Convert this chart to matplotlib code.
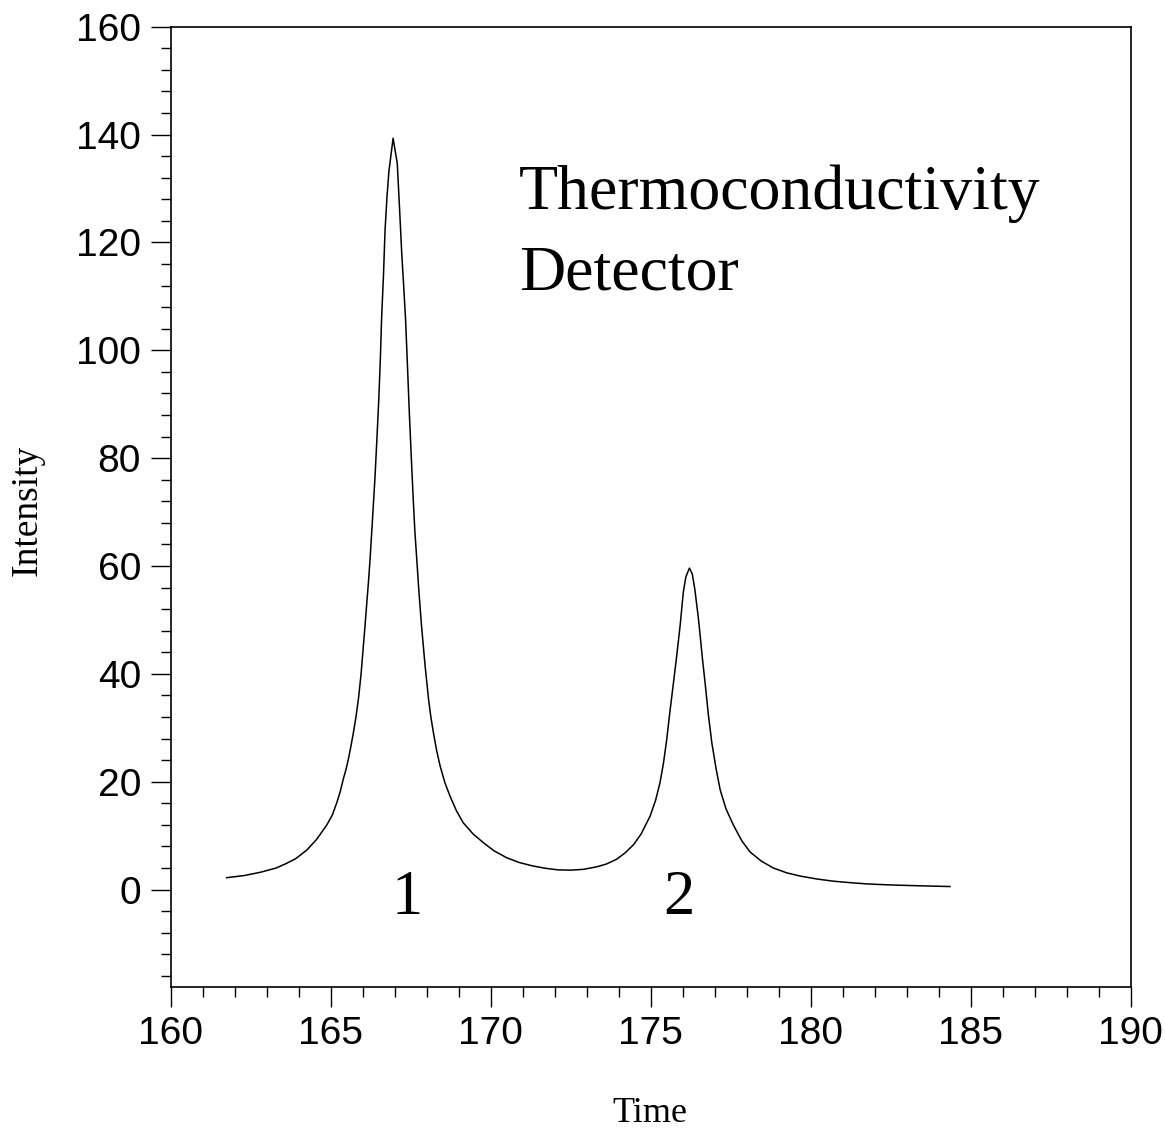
import matplotlib
matplotlib.use("Agg")
import matplotlib.pyplot as plt
from matplotlib.ticker import MultipleLocator

# chromatogram
time = [161.75, 162.3, 162.8, 163.3, 163.6, 163.9, 164.25, 164.56, 164.87, 165.05,
        165.19, 165.3, 165.39, 165.48, 165.55, 165.63, 165.71, 165.79, 165.87, 165.95,
        166.02, 166.07, 166.12, 166.18, 166.23, 166.3, 166.38, 166.44, 166.5, 166.55,
        166.59, 166.65, 166.70, 166.76, 166.82, 166.95, 167.08, 167.15, 167.22, 167.28,
        167.34, 167.40, 167.46, 167.52, 167.58, 167.63, 167.69, 167.76, 167.84, 167.95,
        168.06, 168.13, 168.21, 168.31, 168.42, 168.57, 168.73, 168.93, 169.14, 169.45,
        169.77, 170.1, 170.5, 170.9, 171.3, 171.7, 172.1, 172.5, 172.9, 173.3,
        173.6, 173.93, 174.2, 174.46, 174.7, 174.98, 175.15, 175.29, 175.4, 175.5,
        175.6, 175.71, 175.81, 175.92, 176.02, 176.1, 176.21, 176.3, 176.38, 176.49,
        176.55, 176.62, 176.70, 176.8, 176.91, 177.04, 177.17, 177.35, 177.58, 177.85,
        178.1, 178.45, 178.83, 179.25, 179.67, 180.2, 180.71, 181.25, 181.75, 182.3,
        182.79, 183.6, 184.35]
intensity = [2.2, 2.6, 3.2, 4.0, 4.8, 5.7, 7.3, 9.3, 11.9, 13.8,
             16.1, 18.2, 20.4, 22.3, 24.1, 26.5, 29.1, 32.0, 35.5, 40.0,
             45.1, 48.7, 52.5, 57.0, 61.2, 68.0, 76.0, 83.0, 90.5, 98.0,
             105.7, 114.0, 122.4, 128.5, 133.2, 139.3, 134.7, 126.5, 118.0, 112.0,
             105.7, 97.0, 88.0, 80.0, 72.3, 66.5, 61.2, 55.0, 48.8, 41.5,
             35.2, 32.0, 29.1, 25.8, 22.9, 19.8, 17.3, 14.6, 12.4, 10.3,
             8.7, 7.2, 5.9, 5.0, 4.4, 3.95, 3.65, 3.6, 3.75, 4.2,
             4.7, 5.6, 6.8, 8.3, 10.3, 13.6, 16.5, 19.8, 23.5, 27.8,
             33.0, 38.3, 43.2, 49.0, 55.2, 58.0, 59.6, 58.5, 55.6, 50.3,
             46.8, 42.6, 38.3, 32.5, 27.2, 22.5, 18.5, 15.0, 12.0, 9.0,
             7.0, 5.3, 4.0, 3.1, 2.5, 1.95, 1.55, 1.27, 1.05, 0.9,
             0.8, 0.67, 0.56]

peak_labels = ["1", "2"]
peak_pos = [167.4, 175.88]

fig = plt.figure(figsize=(11.65, 11.29), dpi=100)
ax = fig.add_axes([0.1465, 0.1261, 0.8241, 0.8503])

ax.plot(time, intensity, color="black", lw=1.1)

ax.set_xlim(160, 190)
ax.set_ylim(-18, 160)
ax.xaxis.set_major_locator(MultipleLocator(5))
ax.xaxis.set_minor_locator(MultipleLocator(1))
ax.yaxis.set_major_locator(MultipleLocator(20))
ax.yaxis.set_minor_locator(MultipleLocator(4))
ax.tick_params(which="both", direction="out", width=1.0, top=False, right=False)
ax.tick_params(which="major", length=14.4, pad=7, labelsize=28)
ax.tick_params(which="minor", length=7.2)
for lab in ax.get_xticklabels() + ax.get_yticklabels():
    lab.set_fontfamily("Liberation Sans")
for sp in ax.spines.values():
    sp.set_linewidth(1.2)

serif = "Liberation Serif"
fig.text(650 / 1165, 1 - 1122 / 1129, "Time", family=serif, fontsize=26,
         ha="center", va="baseline")
fig.text(27 / 1165, 1 - 510 / 1129, "Intensity", family=serif, fontsize=27,
         rotation=90, ha="center", va="center")

ax.text(170.88, 126.1, "Thermoconductivity", family=serif, fontsize=46, va="baseline")
ax.text(170.88, 111.3, "Detector", family=serif, fontsize=46, va="baseline")

for lab, xp in zip(peak_labels, peak_pos):
    ax.text(xp, -4.6, lab, family=serif, fontsize=45, ha="center", va="baseline")

fig.savefig("out.png", dpi=100)
